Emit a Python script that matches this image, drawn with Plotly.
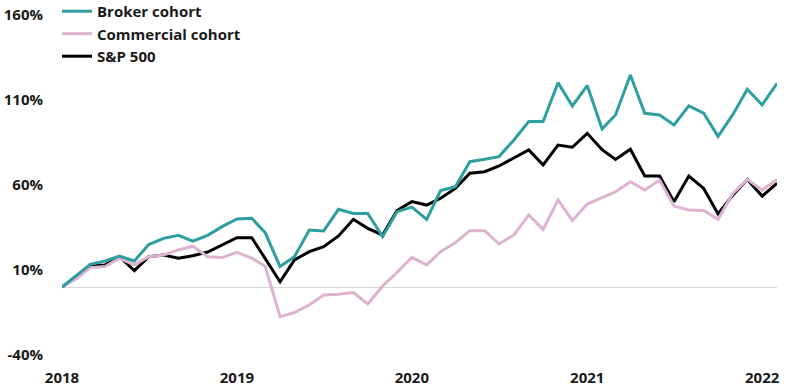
import plotly.graph_objects as go
import pandas as pd

months = pd.date_range("2018-01-01", periods=50, freq="MS")

broker = [0, 7, 13.3, 15.3, 18.2, 15.3, 25, 28.6, 30.4, 27, 30.4, 35.5, 40, 40.4, 32,
          12, 17.8, 33.5, 33, 45.7, 43.3, 43.3, 29.6, 44.3, 47, 39.8, 56.7, 59, 73.7, 75.1,
          76.7, 86.5, 97.3, 97.3, 120.2, 106.5, 118.5, 93, 101.2, 124.7, 102.2, 101.2, 95.3,
          106.5, 102.2, 88.6, 101.5, 116.3, 107.1, 119.8]
commercial = [0, 5, 11.4, 12, 16.9, 13, 17.8, 18.8, 21.8, 24, 17.8, 17.3, 20.4, 17, 12.2,
              -17.5, -15, -10.6, -4.7, -4.3, -3.3, -10, 0.6, 8.5, 17.4, 13, 20.8, 26.1, 33.1, 33.1,
              25.3, 30.6, 42.4, 33.9, 51.2, 39, 48.8, 52.5, 56, 61.9, 57, 62.9, 47.6, 45.3, 45,
              39.8, 55.1, 63.3, 57, 63.3]
sp500 = [0, 6, 12.4, 13, 17.8, 9.6, 17.8, 18.8, 16.9, 18.4, 20.6, 24.7, 29, 29, 16.5,
         3.1, 15.9, 20.8, 23.7, 30, 39.8, 34.5, 30.6, 45, 50.2, 48.2, 52.2, 58, 66.9, 67.8,
         71.2, 75.7, 80.6, 71.8, 83.5, 82.2, 90.4, 80.8, 75, 81, 65.3, 65.3, 50.2, 65.3, 58,
         43, 54.1, 63.3, 53.5, 61]

y_ticks = [-40, 10, 60, 110, 160]
y_labels = ["-40%", "10%", "60%", "110%", "160%"]
x_ticks = ["2018-01-01", "2019-01-01", "2020-01-01", "2021-01-01", "2022-01-01"]
x_labels = ["2018", "2019", "2020", "2021", "2022"]

FONT = "Open Sans"

fig = go.Figure()
fig.add_trace(go.Scatter(x=months, y=sp500, name="S&P 500", mode="lines",
                         line=dict(color="#000000", width=3)))
fig.add_trace(go.Scatter(x=months, y=commercial, name="Commercial cohort", mode="lines",
                         line=dict(color="#DDB3D0", width=3)))
fig.add_trace(go.Scatter(x=months, y=broker, name="Broker cohort", mode="lines",
                         line=dict(color="#2E9E9E", width=3)))

fig.update_layout(
    width=800, height=392,
    margin=dict(l=62, r=23, t=15, b=37, autoexpand=False),
    paper_bgcolor="white", plot_bgcolor="white",
    showlegend=True,
    legend=dict(traceorder="reversed", xref="paper", yref="paper",
                x=-0.007, y=1.059, xanchor="left", yanchor="top",
                font=dict(family=FONT, size=15, color="#1a1a1a", weight="bold"),
                bgcolor="rgba(0,0,0,0)", tracegroupgap=0),
    xaxis=dict(type="date", range=["2018-01-01", "2022-02-01"], tickvals=x_ticks,
               ticktext=x_labels, showgrid=False, zeroline=False, showline=False,
               ticks="", ticklabelstandoff=12, automargin=False,
               tickfont=dict(family=FONT, size=15, color="#1a1a1a", weight="bold")),
    yaxis=dict(range=[-40, 160], tickvals=y_ticks, ticktext=y_labels, showgrid=False,
               zeroline=True, zerolinecolor="#d6d6d6", zerolinewidth=1, showline=False,
               ticks="", ticklabelstandoff=18, automargin=False,
               tickfont=dict(family=FONT, size=15, color="#1a1a1a", weight="bold")),
)

fig.write_html("out.html", config={"displayModeBar": False},
               post_script="document.body.style.margin='0';")
